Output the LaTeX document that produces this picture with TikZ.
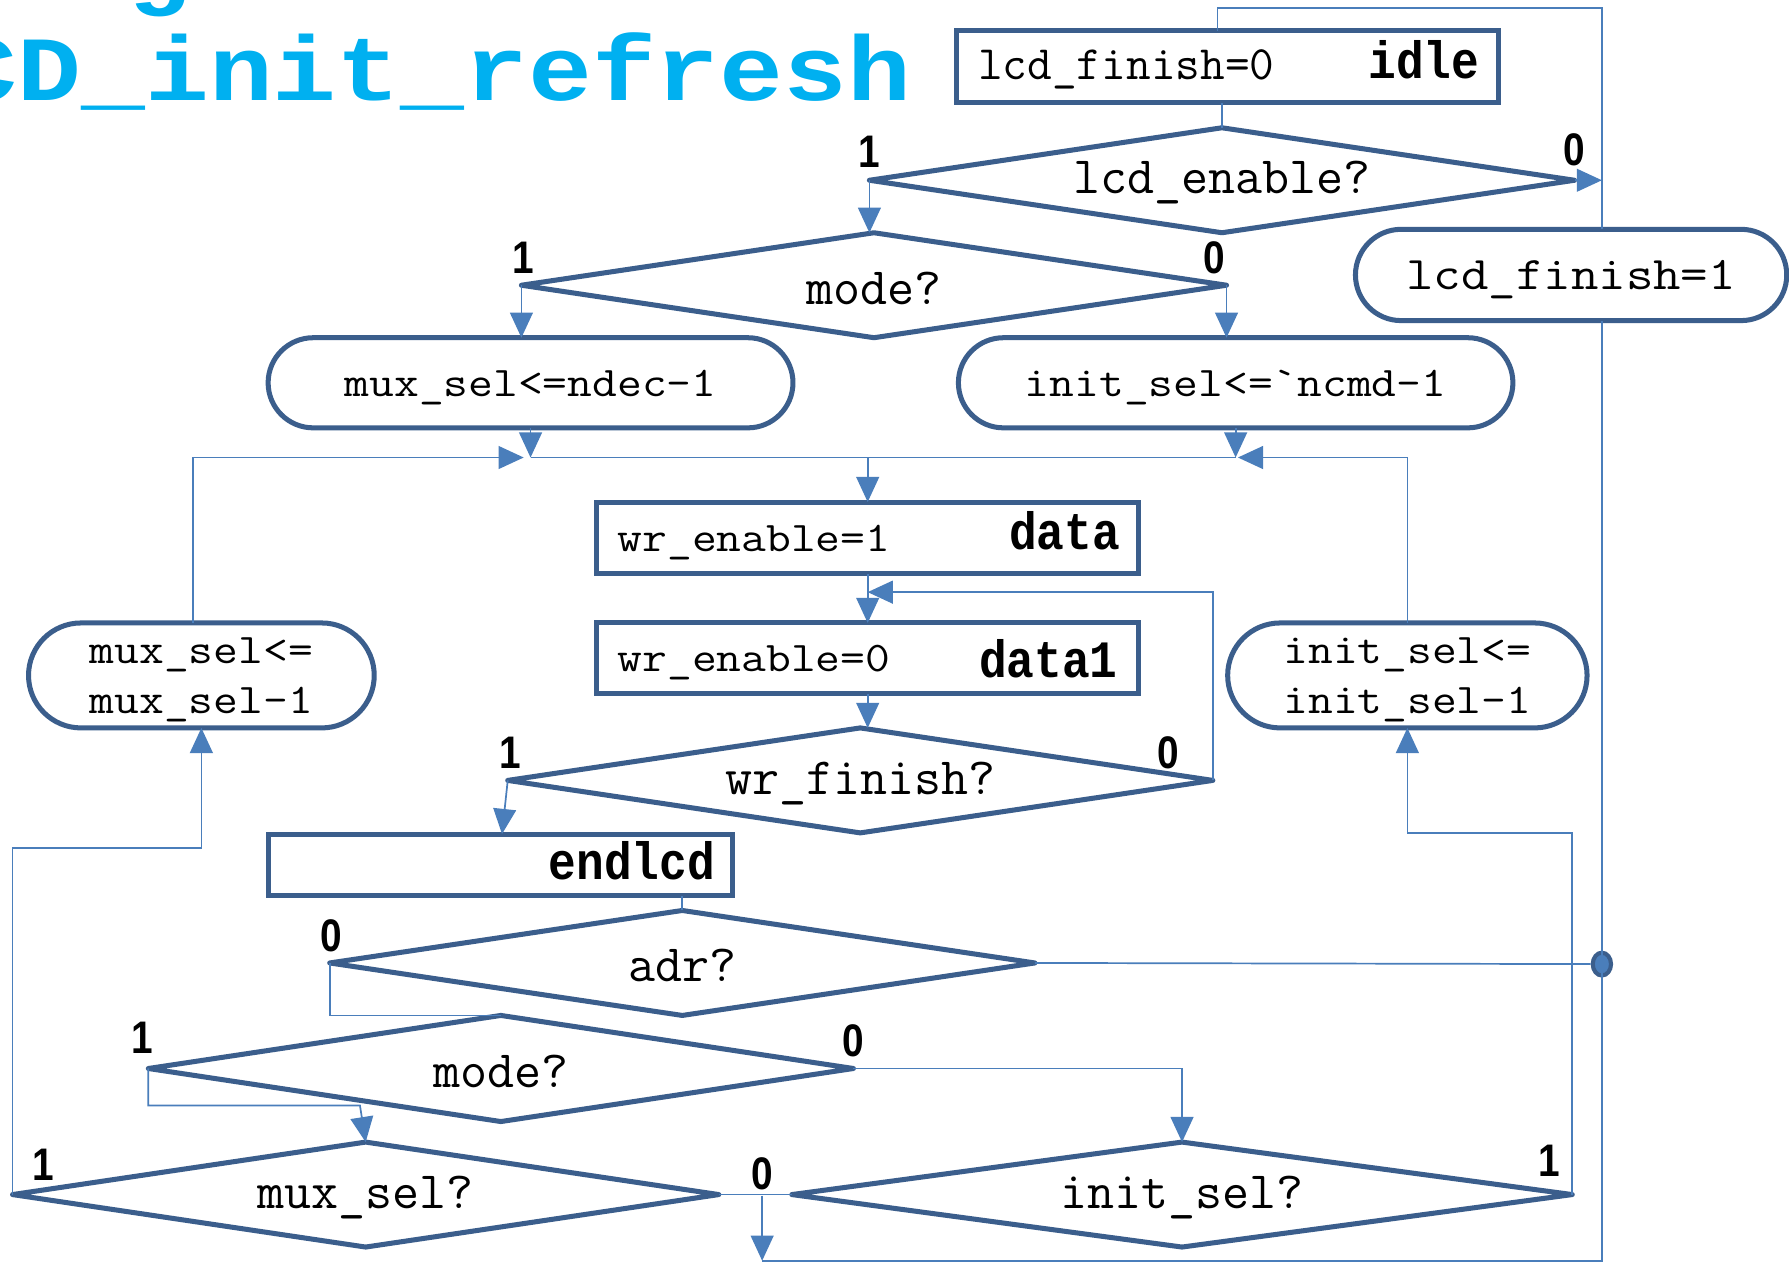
\documentclass[tikz,border=0pt]{standalone}
\usepackage{fontspec}
\usepackage{graphicx}
\usetikzlibrary{shapes.geometric,shapes.misc,arrows.meta}
\newfontfamily\boldmono[FakeStretch=0.88]{Liberation Mono}
\newfontfamily\labfont[FakeStretch=0.85]{Liberation Sans}
\newfontfamily\titfont[FakeStretch=1.16]{Liberation Mono}
% wide Courier-like text and narrow Courier-like text
\newcommand{\tw}[1]{\raisebox{-2pt}[\height][\depth]{\scalebox{1.14}[1]{\ttfamily #1}}}
\newcommand{\tc}[1]{\raisebox{-1.2pt}[\height][\depth]{\ttfamily #1}}
\definecolor{border}{HTML}{3B5E8C}
\definecolor{conn}{HTML}{4A7EBB}
\definecolor{titlecol}{HTML}{00B0F0}
\tikzset{
  shp/.style={draw=border, line width=2.2pt, line join=round, fill=white, inner sep=0pt, outer sep=0pt,
    font=\fontsize{18.5}{22}\selectfont},
  boxnode/.style={shp, rectangle, line join=miter},
  dec/.style={shp, diamond},
  term/.style={shp, rounded rectangle, align=left},
  widetxt/.style={inner sep=0pt, font=\fontsize{18.5}{22}\selectfont},
  narrowtxt/.style={inner sep=0pt, font=\fontsize{21}{21}\selectfont},
  dectxt/.style={inner sep=0pt, font=\fontsize{23}{23}\selectfont},
  statetxt/.style={inner sep=0pt, font=\boldmono\bfseries\fontsize{23}{23}\selectfont},
  digit/.style={inner sep=0pt, font=\labfont\bfseries\fontsize{20}{20}\selectfont},
  link/.style={draw=conn, line width=0.75pt},
  arr/.style={link, -{Triangle[length=11pt,width=10pt]}},
}
\begin{document}
\begin{tikzpicture}[x=0.5pt,y=-0.5pt]
\fill[white] (0,0) rectangle (1568,1111);
\useasboundingbox (0,0) rectangle (1568,1111);

% title
\node[anchor=base west, inner sep=0pt, text=titlecol, font=\titfont\bfseries\fontsize{40.2}{42}\selectfont] (title) at (-41,88) {CD\_init\_refresh};
\node[anchor=base west, inner sep=0pt, text=titlecol, font=\titfont\bfseries\fontsize{40.2}{42}\selectfont] (gfrag) at (111,-2) {g};

% boxes
\node[boxnode, minimum width=237.5pt, minimum height=31.5pt] (idle) at (1075.5,58.5) {};
\node[narrowtxt, anchor=west] (idletxt) at ([xshift=9.5pt]idle.west) {\tc{lcd\_finish=0}};
\node[statetxt, anchor=north east] (idlelab) at ([xshift=-8pt,yshift=-4pt]idle.north east) {idle};

\node[boxnode, minimum width=237.5pt, minimum height=31.5pt] (data) at (760.5,471.5) {};
\node[widetxt, anchor=west] (datatxt) at ([xshift=9pt]data.west) {\tw{wr\_enable=1}};
\node[statetxt, anchor=north east] (datalab) at ([xshift=-8pt,yshift=-4pt]data.north east) {data};

\node[boxnode, minimum width=237.5pt, minimum height=31pt] (data1) at (760.5,577) {};
\node[widetxt, anchor=west] (data1txt) at ([xshift=9pt]data1.west) {\tw{wr\_enable=0}};
\node[statetxt, anchor=east] (data1lab) at ([xshift=-9pt]data1.east) {data1};

\node[boxnode, minimum width=203.5pt, minimum height=27pt] (end) at (438.5,758) {};
\node[statetxt, anchor=north east] (endlab) at ([xshift=-7.5pt,yshift=-3pt]end.north east) {endlcd};

% decisions
\node[dec, minimum width=309pt, minimum height=46pt] (d1) at (1071,158) {};
\node[dectxt] (d1t) at (d1) {\tc{lcd\_enable?}};
\node[dec, minimum width=309pt, minimum height=46pt] (m1) at (766,250) {};
\node[dectxt] (m1t) at (m1) {\tc{mode?}};
\node[dec, minimum width=309pt, minimum height=46pt] (wf) at (754,684) {};
\node[dectxt] (wft) at (wf) {\tc{wr\_finish?}};
\node[dec, minimum width=309pt, minimum height=46pt] (adr) at (598,844) {};
\node[dectxt] (adrt) at (adr) {\tc{adr?}};
\node[dec, minimum width=309pt, minimum height=46.5pt] (m2) at (439,936.5) {};
\node[dectxt] (m2t) at (m2) {\tc{mode?}};
\node[dec, minimum width=309.5pt, minimum height=46pt] (mxs) at (320.5,1047) {};
\node[dectxt] (mxst) at (mxs) {\tc{mux\_sel?}};
\node[dec, minimum width=342pt, minimum height=46pt] (ins) at (1036,1047) {};
\node[dectxt] (inst) at (ins) {\tc{init\_sel?}};

% terminals
\node[term, minimum width=230pt, minimum height=39.5pt] (ms1) at (465,335.5) {\tw{mux\_sel<=ndec-1}};
\node[term, minimum width=243pt, minimum height=39.5pt] (is1) at (1083,335.5) {\tw{init\_sel<=\textasciigrave ncmd-1}};
\node[term, minimum width=189pt, minimum height=40pt, font=\fontsize{20.5}{22}\selectfont] (lf1) at (1377,241) {\tw{lcd\_finish=1}};
\node[term, minimum width=151.5pt, minimum height=46pt] (msd) at (176.5,592) {\tw{mux\_sel<=}\\\tw{mux\_sel-1}};
\node[term, minimum width=157.5pt, minimum height=46pt] (isd) at (1233.5,592) {\tw{init\_sel<=}\\\tw{init\_sel-1}};

\node[ellipse, fill=conn, draw=border, line width=1.8pt, minimum width=8pt, minimum height=10pt, inner sep=0pt] (dot) at (1404,845) {};

% digit labels
\node[digit] (l1) at (762,133) {1};
\node[digit] (l2) at (1380,131) {0};
\node[digit] (l3) at (459,226) {1};
\node[digit] (l4) at (1064,226) {0};
\node[digit] (l5) at (447,660) {1};
\node[digit] (l6) at (1024,660) {0};
\node[digit] (l7) at (290,820) {0};
\node[digit] (l8) at (125,910) {1};
\node[digit] (l9) at (748,912) {0};
\node[digit] (l10) at (38,1021) {1};
\node[digit] (l11) at (668,1029) {0};
\node[digit] (l12) at (1358,1017) {1};

% helper coordinates
\coordinate (vx) at (1404,0);
\coordinate (tx) at (1067,0);
\coordinate (ytop) at (0,7);
\coordinate (bus) at (0,401);
\coordinate (lx) at (169,0);
\coordinate (yc) at (0,519);
\coordinate (yd) at (0,969);
\coordinate (ye) at (0,743);
\coordinate (yf) at (0,730);
\coordinate (yb) at (0,1105);
\coordinate (jx) at (668,1048);

% connectors
\draw[link] (tx |- idle.north) -- (tx |- ytop) -- (vx |- ytop) -- (vx |- lf1.north);
\draw[link] (vx |- lf1.south) -- (vx |- yb) -- (jx |- yb);
\draw[link] (mxs.east) -- (ins.west);
\draw[arr] (jx) -- (jx |- yb);
\draw[link] (d1.north |- idle.south) -- (d1.north);
\draw[arr] (d1.east) -- (vx |- d1.east);
\draw[arr] (d1.west) -- (d1.west |- m1.north);
\draw[arr] (m1.west) -- (m1.west |- ms1.north);
\draw[arr] (m1.east) -- (m1.east |- is1.north);
\draw[arr] (ms1.south) -- (ms1.south |- bus);
\draw[arr] (is1.south) -- (is1.south |- bus);
\draw[link] (ms1.south |- bus) -- (is1.south |- bus);
\draw[arr, shorten >=3pt] (lx |- msd.north) -- (lx |- bus) -- (ms1.south |- bus);
\draw[arr, shorten >=1pt] (isd.north) -- (isd.north |- bus) -- (is1.south |- bus);
\draw[arr] (data.north |- bus) -- (data.north);
\draw[arr] (data.south) -- (data1.north);
\draw[arr] (wf.east) -- (wf.east |- yc) -- (data.south |- yc);
\draw[arr] (data1.south) -- (data1.south |- wf.north);
\draw[arr] (wf.west) -- ([xshift=-2.5pt]wf.west |- end.north);
\draw[link] (adr.north) -- (adr.north |- end.south);
\draw[link] (adr.east) -- (dot);
\draw[link] (adr.west) -- (adr.west |- m2.north) -- (m2.north);
\draw[arr] (m2.west) -- (m2.west |- yd) -- ([xshift=-2.5pt]mxs.north |- yd) -- (mxs.north);
\draw[arr] (m2.east) -- (m2.east -| ins.north) -- (ins.north);
\draw[arr] (mxs.west) -- (mxs.west |- ye) -- (msd.south |- ye) -- (msd.south);
\draw[arr] (ins.east) -- (ins.east |- yf) -- (isd.south |- yf) -- (isd.south);
\end{tikzpicture}
\end{document}
